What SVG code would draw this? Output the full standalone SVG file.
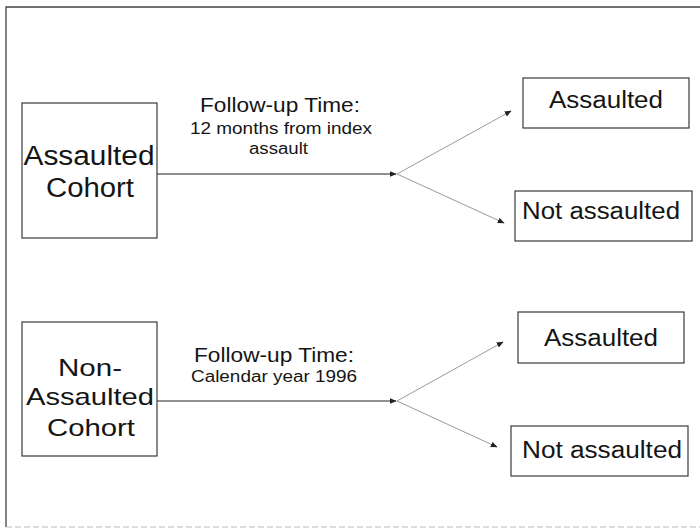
<svg xmlns="http://www.w3.org/2000/svg" width="700" height="529" viewBox="0 0 700 529">
<style>
text{font-family:"Liberation Sans",Arial,sans-serif;fill:#151515;text-anchor:middle}
.box{fill:#fff;stroke:#3a3a3a;stroke-width:1.2}
.big{font-size:27px}
.big2{font-size:24px}
.out{font-size:23px}
.lbl{font-size:21px}
.sub{font-size:16px}
.main{stroke:#222;stroke-width:1.2;fill:none}
.br{stroke:#9a9a9a;stroke-width:1;fill:none}
</style>
<defs>
<marker id="ah" viewBox="0 0 10 10" refX="9" refY="5" markerWidth="7" markerHeight="7" markerUnits="userSpaceOnUse" orient="auto">
<path d="M0,1 L10,5 L0,9 Z" fill="#222"/>
</marker>
</defs>
<rect width="700" height="529" fill="#fff"/>
<g id="frame">
<path d="M6,527 L6,7 L700,7" fill="none" stroke="#444" stroke-width="1.3"/>
<path d="M6,527 L700,527" fill="none" stroke="#bbb" stroke-width="1" stroke-dasharray="6 3"/>
</g>
<g id="connectors">
<path class="main" d="M157,174 L396,174" marker-end="url(#ah)"/>
<path class="br" d="M397,174 L511,111" marker-end="url(#ah)"/>
<path class="br" d="M397,174 L504,223" marker-end="url(#ah)"/>
<path class="main" d="M157,401 L396,401" marker-end="url(#ah)"/>
<path class="br" d="M397,401 L503,342" marker-end="url(#ah)"/>
<path class="br" d="M397,401 L497,447" marker-end="url(#ah)"/>
</g>
<g id="label1">
<text class="lbl" x="280" y="112" textLength="160" lengthAdjust="spacingAndGlyphs">Follow-up Time:</text>
<text class="sub" x="281" y="134" textLength="182" lengthAdjust="spacingAndGlyphs">12 months from index</text>
<text class="sub" x="278.5" y="154" textLength="59" lengthAdjust="spacingAndGlyphs">assault</text>
</g>
<g id="label2">
<text class="lbl" x="274" y="362" textLength="160" lengthAdjust="spacingAndGlyphs">Follow-up Time:</text>
<text class="sub" x="274" y="382" textLength="166" lengthAdjust="spacingAndGlyphs">Calendar year 1996</text>
</g>
<g id="assaulted-cohort">
<rect class="box" x="22" y="103" width="135" height="135"/>
<text class="big" x="89" y="165" textLength="131" lengthAdjust="spacingAndGlyphs">Assaulted</text>
<text class="big" x="90" y="197" textLength="88" lengthAdjust="spacingAndGlyphs">Cohort</text>
</g>
<g id="non-assaulted-cohort">
<rect class="box" x="22" y="322" width="135" height="134"/>
<text class="big2" x="90" y="376" textLength="64" lengthAdjust="spacingAndGlyphs">Non-</text>
<text class="big2" x="90" y="405" textLength="128" lengthAdjust="spacingAndGlyphs">Assaulted</text>
<text class="big2" x="91" y="436" textLength="88" lengthAdjust="spacingAndGlyphs">Cohort</text>
</g>
<g id="a1-assaulted">
<rect class="box" x="523" y="78" width="166" height="50"/>
<text class="out" x="606" y="108" textLength="114" lengthAdjust="spacingAndGlyphs">Assaulted</text>
</g>
<g id="a1-not-assaulted">
<rect class="box" x="515" y="191" width="177" height="50"/>
<text class="out" x="601" y="219" textLength="158" lengthAdjust="spacingAndGlyphs">Not assaulted</text>
</g>
<g id="b1-assaulted">
<rect class="box" x="518" y="312" width="166" height="51"/>
<text class="out" x="601" y="346" textLength="114" lengthAdjust="spacingAndGlyphs">Assaulted</text>
</g>
<g id="b1-not-assaulted">
<rect class="box" x="511" y="426" width="177" height="50"/>
<text class="out" x="602" y="458" textLength="160" lengthAdjust="spacingAndGlyphs">Not assaulted</text>
</g>
</svg>
